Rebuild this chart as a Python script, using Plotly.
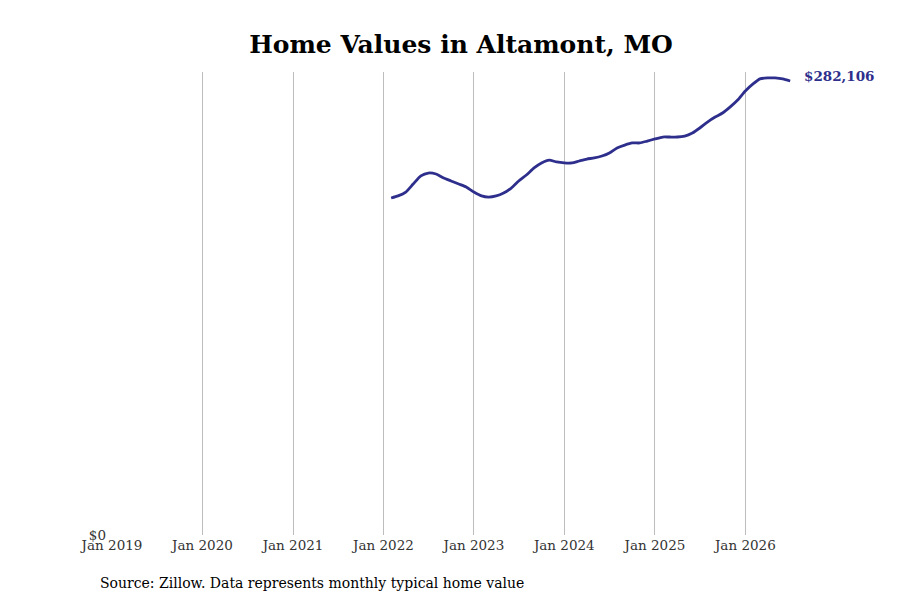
import pandas as pd
import plotly.graph_objects as go

# monthly typical home value, Altamont MO
months = pd.date_range('2022-02-01', '2026-07-01', freq='MS')
values = [209400, 210700, 213100, 218100, 223100, 224900, 224300, 221800, 220000, 218100, 216200,
          213100, 210700, 210000, 210700, 212500, 215600, 220000, 223700, 228100, 231200, 233000, 231800,
          231200, 231200, 232400, 233600, 234300, 235500, 237400, 240500, 242300, 243600, 243600, 244800,
          246100, 247300, 247300, 247300, 247900, 249800, 252900, 256600, 259700, 262200, 266000, 270300,
          275900, 280300, 283400, 284000, 284000, 283400, 282106]

tick_dates = pd.date_range('2019-01-01', '2026-01-01', freq='YS')
tick_labels = [d.strftime('%b %Y') for d in tick_dates]

line_color = '#2e2f8c'

fig = go.Figure()
fig.add_trace(go.Scatter(x=months, y=values, mode='lines',
                         line=dict(color=line_color, width=2.8, shape='spline', smoothing=0.6),
                         hoverinfo='x+y'))

fig.add_annotation(x=months[-1], y=values[-1], text='<b>$' + format(values[-1], ',') + '</b>',
                   showarrow=False, xanchor='left', yanchor='middle', xshift=12, yshift=5,
                   font=dict(family='DejaVu Serif', size=13.5, color=line_color))
fig.add_annotation(x=0, y=0, xref='paper', yref='paper', xanchor='left', yanchor='top',
                   text='Source: Zillow. Data represents monthly typical home value',
                   showarrow=False, xshift=-14, yshift=-38,
                   font=dict(family='DejaVu Serif', size=14, color='black'))

# page body adds an 8px offset, so margins are trimmed to match
fig.update_layout(
    width=900, height=600,
    paper_bgcolor='white', plot_bgcolor='white',
    margin=dict(l=104, r=98, t=64, b=73),
    showlegend=False,
    font=dict(family='DejaVu Serif', size=13, color='#333333'),
    title=dict(text='<b>Home Values in Altamont, MO</b>', x=0.5, xref='paper', y=0.94, yanchor='middle',
               font=dict(family='DejaVu Serif', size=25, color='black')),
)
fig.update_xaxes(range=['2019-01-01', '2026-09-19'], tickvals=tick_dates, ticktext=tick_labels,
                 showgrid=True, gridcolor='#bdbdbd', gridwidth=1, zeroline=False, showline=False,
                 ticks='', ticklabelstandoff=0, tickfont=dict(size=13.5, color='#333333'))
fig.update_yaxes(range=[0, 287700], tickvals=[0], ticktext=['$0'], showgrid=False, zeroline=False,
                 showline=False, ticks='', ticklabelstandoff=5, tickfont=dict(size=13.5, color='#333333'))

fig.write_html('out.html')
